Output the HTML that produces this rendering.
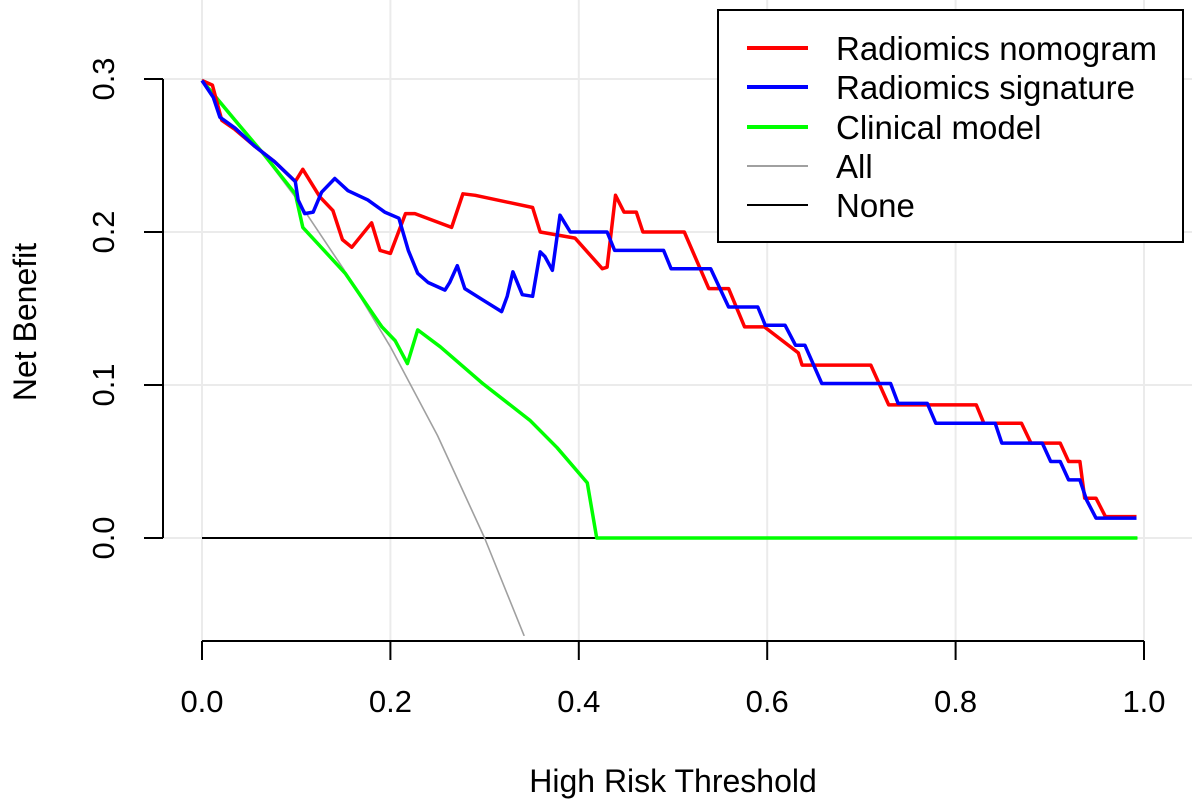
<!DOCTYPE html>
<html><head><meta charset="utf-8">
<style>
html,body{margin:0;padding:0;background:#fff;}
svg{display:block;font-family:"Liberation Sans",sans-serif;}
</style></head>
<body>
<svg id="chart" width="1192" height="810" viewBox="0 0 1192 810">
<g id="grid"></g>
<g id="series"></g>
<g id="axes"></g>
<text x="673" y="792" font-size="32" text-anchor="middle" fill="#000">High Risk Threshold</text>
<text transform="translate(36,322) rotate(-90)" font-size="32" text-anchor="middle" fill="#000">Net Benefit</text>
<g>
<rect x="718" y="10" width="465" height="232" fill="#fff" stroke="#000" stroke-width="2"/>
<g><line x1="747" y1="48" x2="808" y2="48" stroke="#ff0000" stroke-width="4"/><text x="836" y="60" font-size="33">Radiomics nomogram</text></g>
<g><line x1="747" y1="87" x2="808" y2="87" stroke="#0000ff" stroke-width="4"/><text x="836" y="99" font-size="33">Radiomics signature</text></g>
<g><line x1="747" y1="127" x2="808" y2="127" stroke="#00ff00" stroke-width="4"/><text x="836" y="139" font-size="33">Clinical model</text></g>
<g><line x1="747" y1="166" x2="808" y2="166" stroke="#a0a0a0" stroke-width="2"/><text x="836" y="178" font-size="33">All</text></g>
<g><line x1="747" y1="205" x2="808" y2="205" stroke="#000" stroke-width="2"/><text x="836" y="217" font-size="33">None</text></g>
</g>
</svg>
<script>
const xTicks = [0, 0.2, 0.4, 0.6, 0.8, 1.0];
const xTickLabels = ["0.0", "0.2", "0.4", "0.6", "0.8", "1.0"];
const yTicks = [0, 0.1, 0.2, 0.3];
const yTickLabels = ["0.0", "0.1", "0.2", "0.3"];

const nomogramX = [0,.011,.021,.035,.056,.077,.099,.107,.125,.139,.149,.159,.180,.189,.200,.216,.226,.265,.277,.290,.351,.359,.396,.425,.430,.439,.448,.461,.468,.512,.538,.559,.576,.597,.633,.637,.710,.729,.822,.830,.870,.880,.911,.920,.932,.937,.949,.959,.992];
const nomogramY = [.299,.296,.273,.267,.256,.246,.233,.241,.223,.214,.195,.190,.206,.188,.186,.212,.212,.203,.225,.224,.216,.200,.196,.176,.177,.224,.213,.213,.200,.200,.163,.163,.138,.138,.121,.113,.113,.087,.087,.075,.075,.062,.062,.050,.050,.026,.026,.014,.014];

const signatureX = [0,.012,.019,.035,.056,.077,.099,.102,.109,.118,.127,.141,.155,.176,.194,.209,.219,.229,.240,.258,.263,.271,.279,.297,.318,.324,.330,.340,.351,.359,.364,.372,.380,.391,.430,.438,.490,.498,.540,.559,.590,.598,.619,.630,.640,.658,.731,.739,.770,.779,.842,.849,.892,.901,.911,.920,.932,.939,.949,.992];
const signatureY = [.299,.288,.275,.268,.256,.246,.233,.221,.212,.213,.226,.235,.227,.221,.213,.209,.188,.173,.167,.162,.167,.178,.163,.156,.148,.158,.174,.159,.158,.187,.184,.175,.211,.200,.200,.188,.188,.176,.176,.151,.151,.139,.139,.126,.126,.101,.101,.088,.088,.075,.075,.062,.062,.050,.050,.038,.038,.025,.013,.013];

const clinicalX = [0,.035,.064,.099,.107,.152,.191,.205,.218,.229,.253,.298,.348,.377,.409,.419,.993];
const clinicalY = [.299,.273,.252,.225,.203,.173,.138,.129,.114,.136,.125,.101,.077,.059,.036,0,0];

const allX = [0,.05,.10,.15,.20,.25,.30,.342];
const allY = [.300,.263,.222,.176,.125,.067,0,-.064];

const noneX = [0,.993];
const noneY = [0,0];

const X0 = 202, X1 = 1144, Y0 = 538, Y3 = 79;
function sx(v){ return X0 + (X1 - X0) * v; }
function sy(v){ return Y0 - (Y0 - Y3) / 0.3 * v; }
const NS = "http://www.w3.org/2000/svg";
function mk(tag, attrs, parent){
  const e = document.createElementNS(NS, tag);
  for (const k in attrs) e.setAttribute(k, attrs[k]);
  parent.appendChild(e); return e;
}
const grid = document.getElementById('grid');
const axes = document.getElementById('axes');
const series = document.getElementById('series');

const defs = mk('defs', {}, document.getElementById('chart'));
const cp = mk('clipPath', {id:'plotclip'}, defs);
mk('rect', {x:163, y:0, width:1030, height:636}, cp);
series.setAttribute('clip-path', 'url(#plotclip)');

xTicks.forEach((v, i) => {
  const g = mk('line', {x1:sx(v), x2:sx(v), y1:0, y2:641, stroke:'#ebebeb', 'stroke-width':2}, grid);
  
  
  const t = mk('line', {x1:sx(v), x2:sx(v), y1:641, y2:660, stroke:'#000', 'stroke-width':2}, axes);
  
  
  const l = mk('text', {x:sx(v), y:712, 'font-size':31, 'text-anchor':'middle', fill:'#000'}, axes);
  l.textContent = xTickLabels[i];
  
  
});
yTicks.forEach((v, i) => {
  const g = mk('line', {x1:163, x2:1192, y1:sy(v), y2:sy(v), stroke:'#ebebeb', 'stroke-width':2}, grid);
  
  
  const t = mk('line', {x1:144, x2:163, y1:sy(v), y2:sy(v), stroke:'#000', 'stroke-width':2}, axes);
  
  
  const l = mk('text', {transform:'translate(114,' + sy(v) + ') rotate(-90)', 'font-size':31, 'text-anchor':'middle', fill:'#000'}, axes);
  l.textContent = yTickLabels[i];
  
  
});
const ya = mk('line', {x1:163, x2:163, y1:sy(0.3), y2:sy(0), stroke:'#000', 'stroke-width':2}, axes);


const xa = mk('line', {x1:sx(0), x2:sx(1), y1:641, y2:641, stroke:'#000', 'stroke-width':2}, axes);



function drawLine(xs, ys, color, w, name){
  const pts = xs.map((x, i) => sx(x).toFixed(1) + ',' + sy(ys[i]).toFixed(1)).join(' ');
  const p = mk('polyline', {points:pts, fill:'none', stroke:color, 'stroke-width':w, 'stroke-linejoin':'round'}, series);
  
  
}
drawLine(noneX, noneY, '#000', 2, 'none-line');
drawLine(allX, allY, '#a0a0a0', 1.6, 'all-line');
drawLine(clinicalX, clinicalY, '#00ff00', 3.5, 'clinical-model-line');
drawLine(nomogramX, nomogramY, '#ff0000', 3.5, 'radiomics-nomogram-line');
drawLine(signatureX, signatureY, '#0000ff', 3.5, 'radiomics-signature-line');
</script>
</body></html>
